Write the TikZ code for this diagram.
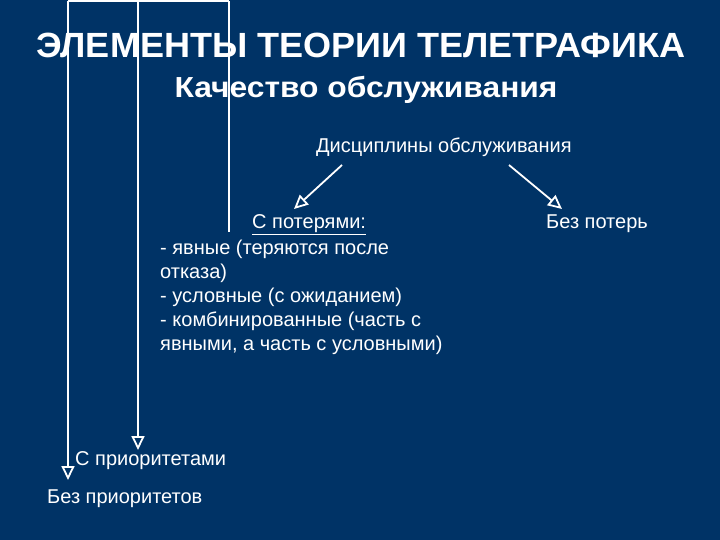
\documentclass[tikz,border=0pt]{standalone}
\usepackage{fontspec}
\setmainfont{Liberation Sans}
\usetikzlibrary{arrows.meta}
\definecolor{bg}{HTML}{003366}
\tikzset{
  lbl/.style={text=white, inner sep=0pt, font=\fontsize{20}{24}\selectfont},
  wline/.style={draw=white, line width=1.8pt},
  warr/.style={wline, -{Triangle[open, length=14pt, width=13pt, fill=bg]}},
}
\begin{document}
\begin{tikzpicture}[x=1pt, y=-1pt]
\fill[bg] (0,0) rectangle (720,540);
\useasboundingbox (0,0) rectangle (720,540);
% connectors behind text
\coordinate (tA) at (68,1);
\coordinate (tB) at (138,1);
\coordinate (tC) at (229,1);
\coordinate (eC) at (229,232);
\draw[wline] (tA) -- (tC);
\draw[wline] (tC) -- (eC);
\node[text=white, inner sep=0pt, anchor=base, font=\fontsize{35}{40}\bfseries\selectfont] (title) at (361,58) {\scalebox{1.03}[1]{ЭЛЕМЕНТЫ ТЕОРИИ ТЕЛЕТРАФИКА}};
\node[text=white, inner sep=0pt, anchor=base, font=\fontsize{29}{34}\bfseries\selectfont] (sub) at (366,98) {\scalebox{1.095}[1]{Качество обслуживания}};
\node[lbl, anchor=base west] (disc) at (316,153) {Дисциплины обслуживания};
\node[lbl, anchor=base west] (loss) at (252,229) {\underline{С потерями:}};
\node[lbl, anchor=base west] (noloss) at (546,229) {Без потерь};
\node[lbl, anchor=north west, align=left] (list) at (160,240) {- явные (теряются после\\отказа)\\- условные (с ожиданием)\\- комбинированные (часть с\\явными, а часть с условными)};
\node[lbl, anchor=base west] (prio) at (75,465) {С приоритетами};
\node[lbl, anchor=base west] (noprio) at (47,503) {Без приоритетов};
\coordinate (a1s) at (342,165);
\coordinate (a1e) at (294,209);
\coordinate (a2s) at (509,165);
\coordinate (a2e) at (562,209);
\draw[warr] (a1s) -- (a1e);
\draw[warr] (a2s) -- (a2e);
\coordinate (eB) at (138,450);
\coordinate (eA) at (68,480);
\draw[warr] (tB) -- (eB);
\draw[warr] (tA) -- (eA);
\end{tikzpicture}
\end{document}
